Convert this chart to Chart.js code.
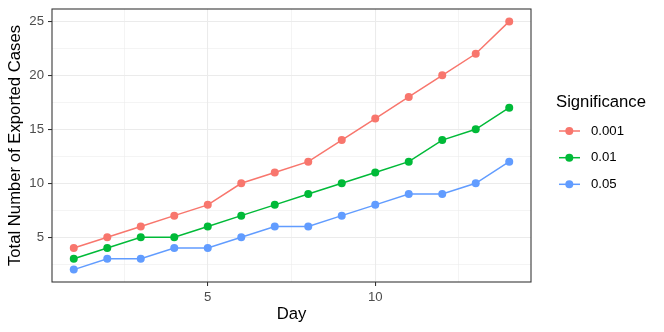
<!DOCTYPE html>
<html>
<head>
<meta charset="utf-8">
<script src="https://cdn.jsdelivr.net/npm/chart.js@4/dist/chart.umd.min.js"></script>
<style>
  html, body { margin: 0; padding: 0; background: #ffffff; }
  #wrap { width: 664px; height: 332px; position: relative; }
</style>
</head>
<body>
<div id="wrap"><canvas id="c" width="664" height="332"></canvas></div>
<script>
const days = [1, 2, 3, 4, 5, 6, 7, 8, 9, 10, 11, 12, 13, 14];
const sig001 = [4, 5, 6, 7, 8, 10, 11, 12, 14, 16, 18, 20, 22, 25];
const sig01 = [3, 4, 5, 5, 6, 7, 8, 9, 10, 11, 12, 14, 15, 17];
const sig05 = [2, 3, 3, 4, 4, 5, 6, 6, 7, 8, 9, 9, 10, 12];
const seriesLabels = ['0.001', '0.01', '0.05'];
const seriesColors = ['#F8766D', '#00BA38', '#619CFF'];
const xMajorTicks = [5, 10];
const xMinorTicks = [2.5, 7.5, 12.5];
const yMajorTicks = [5, 10, 15, 20, 25];
const yMinorTicks = [2.5, 7.5, 12.5, 17.5, 22.5];
const xTitle = 'Day';
const yTitle = 'Total Number of Exported Cases';
const legendTitle = 'Significance';

const FONT = '"Liberation Sans", Arial, Helvetica, sans-serif';
const TITLE_SIZE = 16.7;
const TEXT_SIZE = 13.2;
const seriesValues = [sig001, sig01, sig05];

const datasets = seriesValues.map((vals, i) => ({
  label: seriesLabels[i],
  data: days.map((d, j) => ({ x: d, y: vals[j] })),
  borderColor: seriesColors[i],
  backgroundColor: seriesColors[i],
  pointBackgroundColor: seriesColors[i],
  pointBorderWidth: 0,
  pointRadius: 4,
  borderWidth: 1.5,
  tension: 0,
  fill: false
}));

function isMajor(list, v) { return list.some(t => Math.abs(t - v) < 1e-9); }

const frameAndLegend = {
  id: 'frameAndLegend',
  afterDraw(chart) {
    const ctx = chart.ctx;
    const a = chart.chartArea;
    ctx.save();
    ctx.strokeStyle = '#333333';
    ctx.lineWidth = 1.07;
    ctx.strokeRect(a.left, a.top, a.right - a.left, a.bottom - a.top);
    // legend
    ctx.fillStyle = '#000000';
    ctx.textBaseline = 'middle';
    ctx.textAlign = 'left';
    ctx.font = TITLE_SIZE + 'px ' + FONT;
    ctx.fillText(legendTitle, 556, 102);
    const ys = [131, 157.7, 184.3];
    chart.data.datasets.forEach((ds, i) => {
      const y = ys[i];
      ctx.strokeStyle = ds.borderColor;
      ctx.lineWidth = 1.5;
      ctx.beginPath();
      ctx.moveTo(559, y);
      ctx.lineTo(580, y);
      ctx.stroke();
      ctx.fillStyle = ds.borderColor;
      ctx.beginPath();
      ctx.arc(569.3, y, 4, 0, Math.PI * 2);
      ctx.fill();
      ctx.fillStyle = '#000000';
      ctx.font = TEXT_SIZE + 'px ' + FONT;
      ctx.fillText(ds.label, 591, y);
    });
    ctx.restore();
  }
};

new Chart(document.getElementById('c'), {
  type: 'line',
  data: { datasets },
  options: {
    responsive: false,
    animation: false,
    layout: { padding: { top: 9, right: 133, left: 0, bottom: 0 } },
    plugins: { legend: { display: false }, tooltip: { enabled: false } },
    scales: {
      x: {
        type: 'linear',
        min: 0.35,
        max: 14.65,
        afterBuildTicks: s => { s.ticks = xMinorTicks.concat(xMajorTicks).sort((a, b) => a - b).map(v => ({ value: v })); },
        afterFit: s => { s.height = 50; s.paddingLeft = 0; s.paddingRight = 0; },
        border: { display: false },
        grid: {
          color: '#EBEBEB',
          lineWidth: c => isMajor(xMajorTicks, c.tick.value) ? 1.07 : 0.53,
          tickColor: c => isMajor(xMajorTicks, c.tick.value) ? '#333333' : 'rgba(0,0,0,0)',
          tickWidth: 1.07,
          tickLength: 4,
          drawTicks: true
        },
        ticks: {
          autoSkip: false,
          maxRotation: 0,
          padding: 3,
          color: '#4D4D4D',
          font: { family: FONT, size: TEXT_SIZE },
          callback: v => isMajor(xMajorTicks, v) ? String(v) : ''
        },
        title: {
          display: true,
          text: xTitle,
          color: '#000000',
          font: { family: FONT, size: TITLE_SIZE },
          padding: { top: 0, bottom: 8 }
        }
      },
      y: {
        type: 'linear',
        min: 0.85,
        max: 26.15,
        afterBuildTicks: s => { s.ticks = yMinorTicks.concat(yMajorTicks).sort((a, b) => a - b).map(v => ({ value: v })); },
        afterFit: s => { s.width = 52; s.paddingTop = 0; s.paddingBottom = 0; },
        border: { display: false },
        grid: {
          color: '#EBEBEB',
          lineWidth: c => isMajor(yMajorTicks, c.tick.value) ? 1.07 : 0.53,
          tickColor: c => isMajor(yMajorTicks, c.tick.value) ? '#333333' : 'rgba(0,0,0,0)',
          tickWidth: 1.07,
          tickLength: 4,
          drawTicks: true
        },
        ticks: {
          autoSkip: false,
          padding: 4,
          color: '#4D4D4D',
          font: { family: FONT, size: TEXT_SIZE },
          callback: v => isMajor(yMajorTicks, v) ? String(v) : ''
        },
        title: {
          display: true,
          text: yTitle,
          color: '#000000',
          font: { family: FONT, size: TITLE_SIZE },
          padding: { top: 5.5, bottom: 0 }
        }
      }
    }
  },
  plugins: [frameAndLegend]
});
</script>
</body>
</html>
